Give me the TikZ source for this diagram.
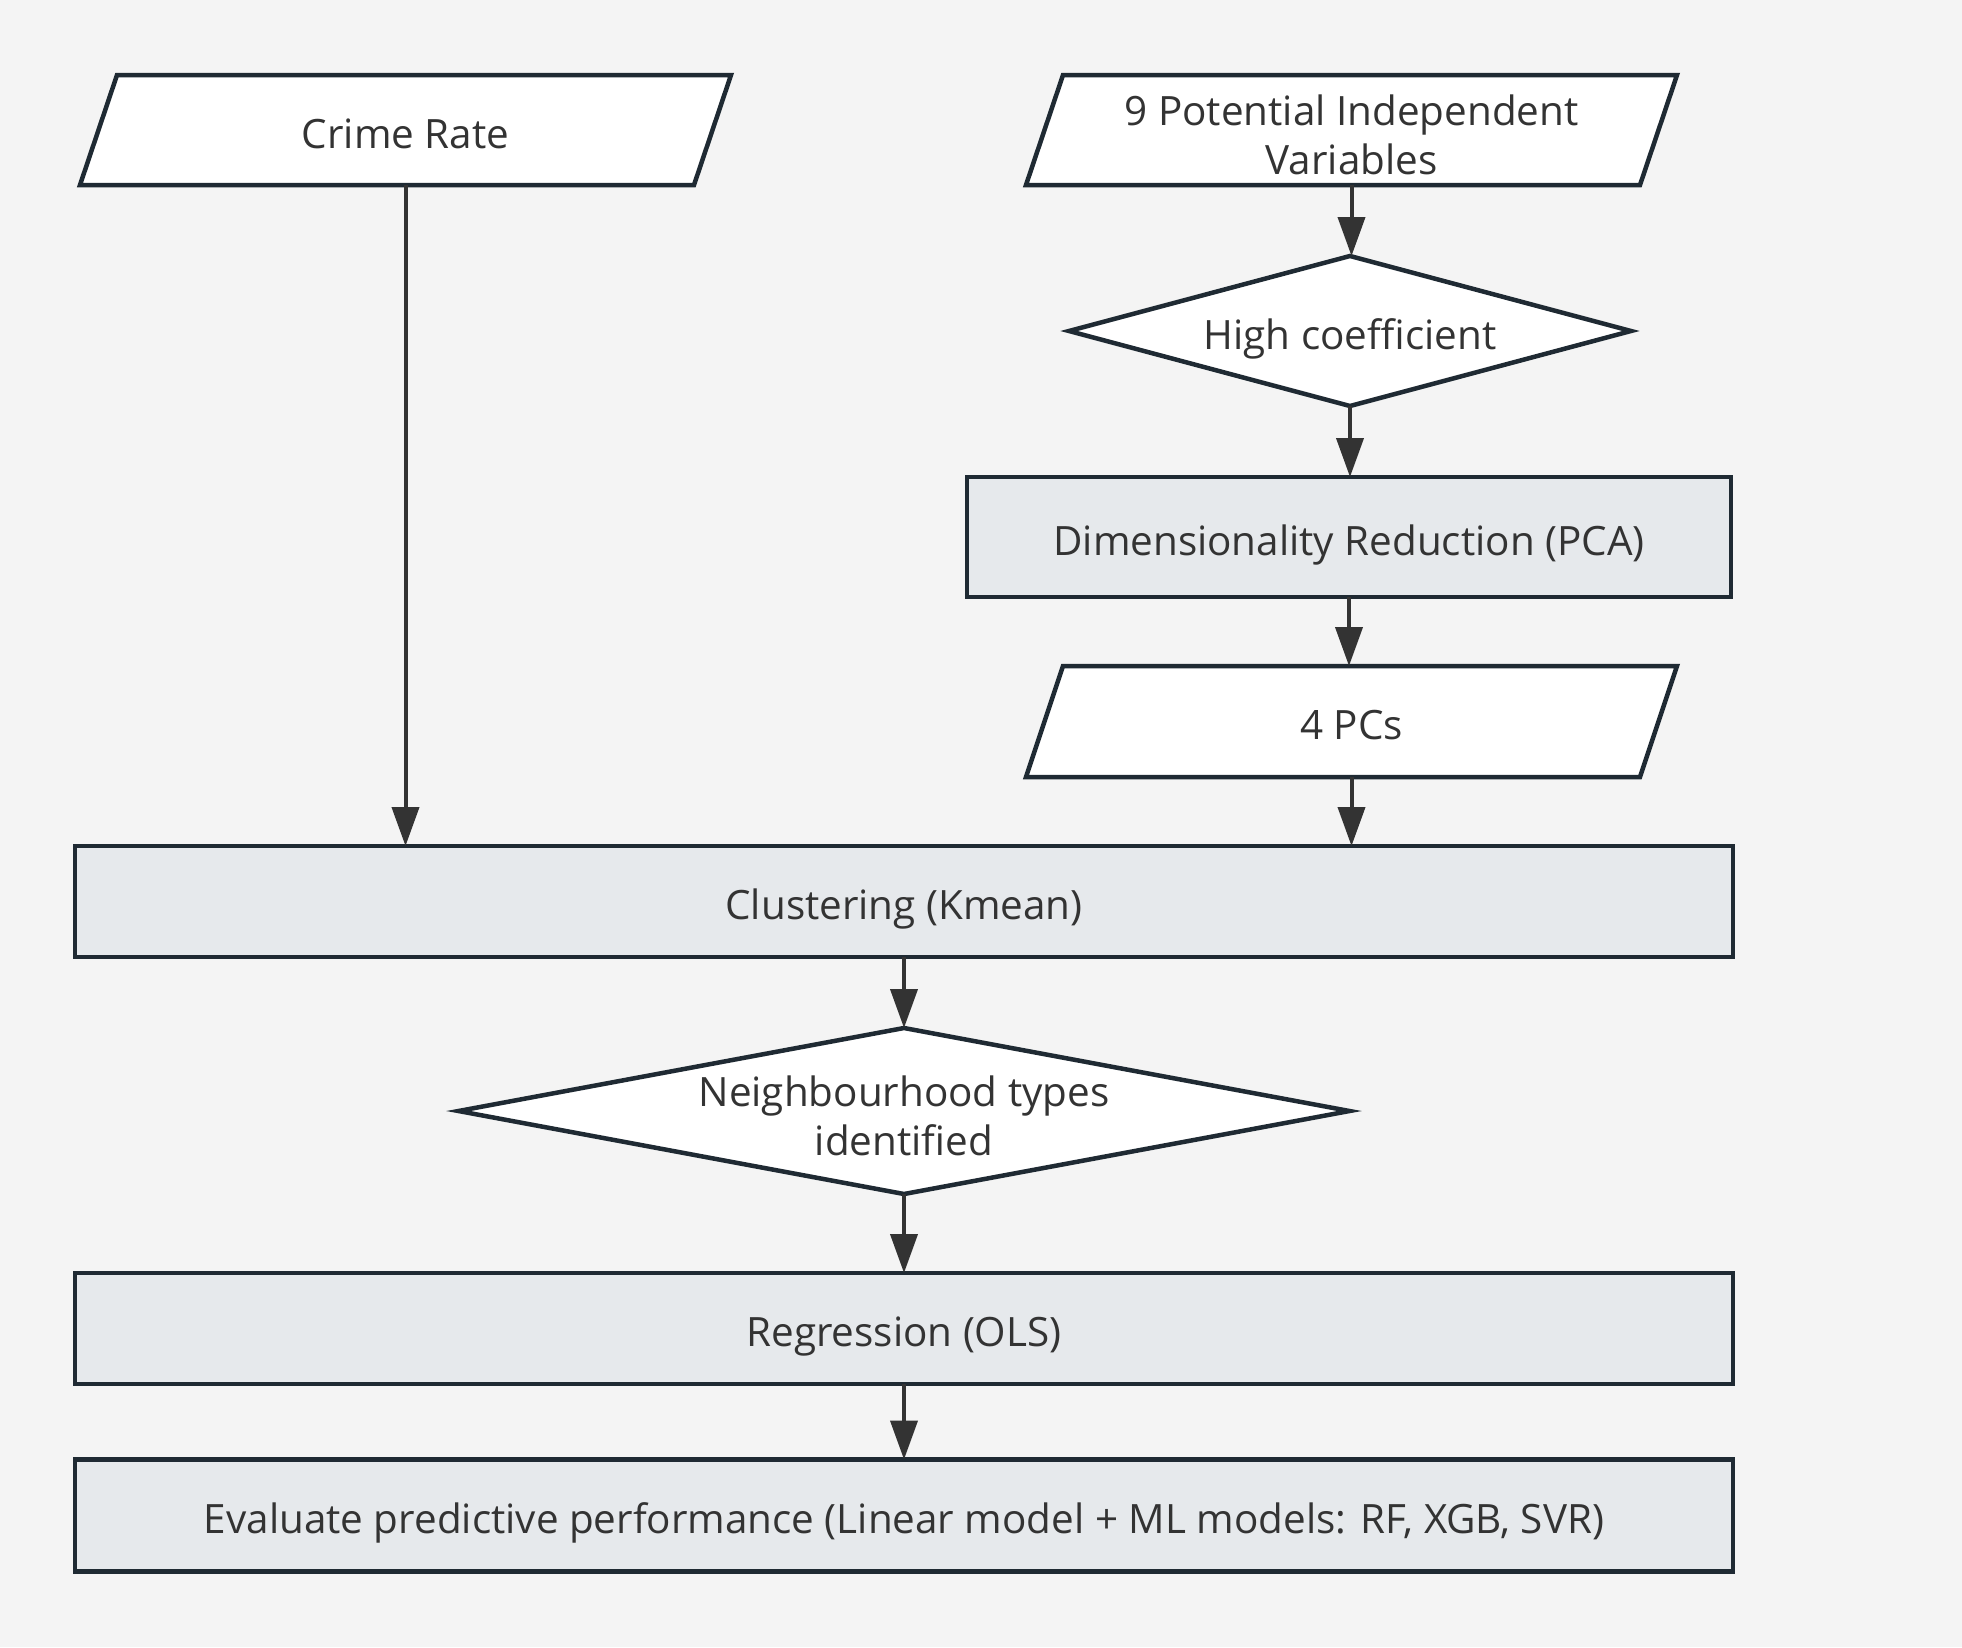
\documentclass[tikz,border=0pt]{standalone}
\usepackage{fontspec}
\setmainfont{Open Sans}
\usetikzlibrary{shapes.geometric,arrows.meta}
\definecolor{bgc}{HTML}{F4F4F4}
\definecolor{boxc}{HTML}{E6E9EC}
\definecolor{edgec}{HTML}{1F2A33}
\definecolor{arrc}{HTML}{333333}
\definecolor{txtc}{HTML}{333333}
\pgfdeclarelayer{bglayer}
\pgfdeclarelayer{shapelayer}
\pgfsetlayers{bglayer,shapelayer,main}
\begin{document}
\begin{tikzpicture}[x=1pt,y=-1pt,
  every node/.style={font=\fontsize{40.4}{48.5}\selectfont, text=txtc, inner sep=0pt, outer sep=0pt, align=center},
  oneline/.style={text height=40pt, text depth=3.4pt},
  twoline/.style={yshift=-5pt},
  procbox/.style={rectangle, draw=edgec, fill=boxc, line width=4.5pt, oneline},
  decision/.style={diamond, draw=edgec, fill=white, line width=4.5pt},
  iobox/.style={rectangle, minimum width=651pt, minimum height=110pt},
  ioshape/.style={draw=edgec, fill=white, line width=4.5pt, line join=miter},
  flow/.style={draw=arrc, line width=4pt, -{Triangle[length=39pt,width=27pt]}}
]
\begin{pgfonlayer}{bglayer}
  \fill[bgc] (0,0) rectangle (1962,1647);
\end{pgfonlayer}
\useasboundingbox (0,0) rectangle (1962,1647);

% input / output nodes (parallelograms)
\node[iobox, oneline] (crime) at (405.5,130) {Crime Rate};
\node[iobox] (pot) at (1351.5,130) {};
\node[twoline] (pottext) at (pot.center) {9 Potential Independent\\Variables};
\node[iobox, oneline, minimum height=111pt] (pcs) at (1351.5,721.5) {4 PCs};

\begin{pgfonlayer}{shapelayer}
  \draw[ioshape] ([xshift=37pt]crime.north west) -- (crime.north east) -- ([xshift=-37pt]crime.south east) -- (crime.south west) -- cycle;
  \draw[ioshape] ([xshift=37pt]pot.north west) -- (pot.north east) -- ([xshift=-37pt]pot.south east) -- (pot.south west) -- cycle;
  \draw[ioshape] ([xshift=37pt]pcs.north west) -- (pcs.north east) -- ([xshift=-37pt]pcs.south east) -- (pcs.south west) -- cycle;
\end{pgfonlayer}

% decisions
\node[decision, minimum width=562pt, minimum height=150pt] (hc) at (1350,331) {};
\node[oneline] (hctext) at (hc.center) {High coefficient};
\node[decision, minimum width=891pt, minimum height=166pt] (nb) at (904,1111) {};
\node[twoline] (nbtext) at (nb.center) {Neighbourhood types\\identified};

% process boxes
\node[procbox, minimum width=764pt, minimum height=120pt] (pca) at (1349,537) {Dimensionality Reduction (PCA)};
\node[procbox, minimum width=1658pt, minimum height=111pt] (clust) at (904,901.5) {Clustering (Kmean)};
\node[procbox, minimum width=1658pt, minimum height=111pt] (reg) at (904,1328.5) {Regression (OLS)};
\node[procbox, minimum width=1658pt, minimum height=112pt] (eval) at (904,1515.5) {Evaluate predictive performance (Linear model + ML models: RF, XGB, SVR)};

% connectors
\draw[flow] (crime.south) -- (crime.south |- clust.north);
\draw[flow] (pot.south) -- (pot.south |- hc.north);
\draw[flow] (hc.south) -- (hc.south |- pca.north);
\draw[flow] (pca.south) -- (pca.south |- pcs.north);
\draw[flow] (pcs.south) -- (pcs.south |- clust.north);
\draw[flow] (clust.south -| nb.north) -- (nb.north);
\draw[flow] (nb.south) -- (nb.south |- reg.north);
\draw[flow] (reg.south) -- (eval.north);
\end{tikzpicture}
\end{document}
